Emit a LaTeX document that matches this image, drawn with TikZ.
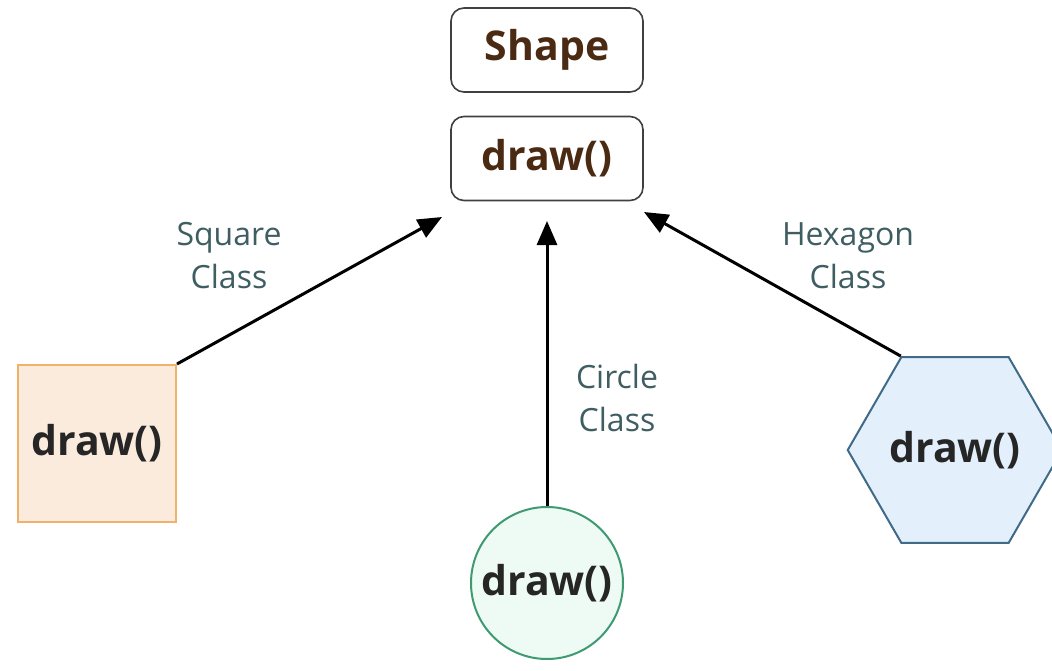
\documentclass[tikz,border=0pt]{standalone}
\usepackage{fontspec}
\setmainfont{Open Sans}
\usetikzlibrary{shapes.geometric,arrows.meta}
\definecolor{brownt}{HTML}{4A2A12}
\definecolor{labelc}{HTML}{3E5E62}
\definecolor{sqfill}{HTML}{FBEBDC}
\definecolor{sqdraw}{HTML}{F3B068}
\definecolor{cifill}{HTML}{EEFAF4}
\definecolor{cidraw}{HTML}{3E9A70}
\definecolor{hxfill}{HTML}{E3F0FB}
\definecolor{hxdraw}{HTML}{3F6A88}
\tikzset{
  topbox/.style={draw=black!75, line width=1.6pt, rounded corners=13pt, minimum width=192pt, minimum height=84pt, inner sep=0pt, text=brownt, font=\fontsize{41}{44}\selectfont\bfseries},
  bold/.style={font=\fontsize{41}{44}\selectfont\bfseries, text=black!85, inner sep=0pt},
  lbl/.style={font=\fontsize{32}{43}\selectfont, text=labelc, align=center},
  arr/.style={line width=3pt, -{Triangle[length=24pt,width=20pt]}}
}
\begin{document}
\begin{tikzpicture}[x=1pt,y=-1pt]
\useasboundingbox (0,0) rectangle (1052,671);
\node[topbox] (shape) at (547,50) {\raisebox{-3pt}{Shape}};
\node[topbox] (top) at (547,158.5) {draw()};
\node[bold, draw=sqdraw, fill=sqfill, line width=2pt, minimum width=158pt, minimum height=157pt] (sq) at (97,443.5) {draw()};
\node[bold, circle, draw=cidraw, fill=cifill, line width=2pt, minimum size=152pt] (ci) at (547,583) {draw()};
\node[bold, regular polygon, regular polygon sides=6, shape border rotate=0, draw=hxdraw, fill=hxfill, line width=2pt, minimum size=198pt] (hx) at (955,450) {draw()};
\coordinate (t1) at (442,217);
\coordinate (t2) at (547,221);
\coordinate (t3) at (644,212);
\draw[arr] (sq.north east) -- (t1);
\draw[arr] (ci.north) -- (t2);
\draw[arr] (hx.corner 2) -- (t3);
\node[lbl] (l1) at (229,256) {Square\\Class};
\node[lbl] (l2) at (617,398) {Circle\\Class};
\node[lbl] (l3) at (848,256) {Hexagon\\Class};
\end{tikzpicture}
\end{document}
